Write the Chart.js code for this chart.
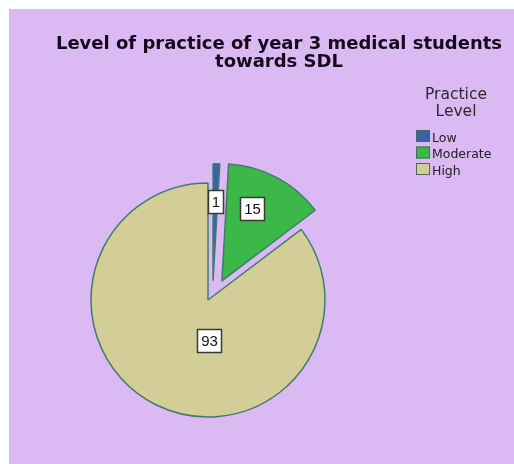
<!DOCTYPE html>
<html>
<head>
<meta charset="utf-8">
<script src="https://cdn.jsdelivr.net/npm/chart.js@4/dist/chart.umd.min.js"></script>
<style>
  html, body { margin: 0; padding: 0; background: #ffffff; }
  #wrap { width: 514px; height: 464px; position: relative; }
</style>
</head>
<body>
<div id="wrap"><canvas id="pie" width="514" height="464"></canvas></div>
<script>
// Students per practice level (year 3, self-directed learning)
const levels = ['Low', 'Moderate', 'High'];
const counts = [1, 15, 93];

const titleLines = ['Level of practice of year 3 medical students', 'towards SDL'];
const legendTitle = ['Practice', 'Level'];

// Presentation
const sliceColors = ['#3a62a9', '#3bb848', '#d3ce97'];
const sliceBorder = '#3f7c6e';
const explodePx = [20, 23.6, 0];        // how far each slice is pulled out
const explodeTurn = [13, 8, 0];         // extra turn of the pull direction, degrees
const labelFrac = [0.68, 0.667, 0.35];  // label distance as part of radius
const labelTurn = [0.4, -5.3, -27.8];   // label angle tweak in degrees
const RADIUS = 117;
const FONT = '"DejaVu Sans", Verdana, sans-serif';
const BOX_FONT = '"Liberation Sans", Arial, sans-serif';

// Pull slices out by moving each arc's centre, so radius and angles stay exact
const explode = {
  id: 'explode',
  afterDatasetUpdate(chart, args) {
    args.meta.data.forEach((arc, i) => {
      const a = (arc.startAngle + arc.endAngle) / 2 + explodeTurn[i] * Math.PI / 180;
      arc.x += Math.cos(a) * explodePx[i];
      arc.y += Math.sin(a) * explodePx[i];
    });
  }
};

const backdrop = {
  id: 'backdrop',
  beforeDraw(chart) {
    const c = chart.ctx;
    c.save();
    c.fillStyle = '#ffffff';
    c.fillRect(0, 0, chart.width, chart.height);
    c.fillStyle = '#dbb9f2';
    c.fillRect(9, 9, chart.width - 9, chart.height - 9);
    c.restore();
  }
};

const decorations = {
  id: 'decorations',
  afterDatasetsDraw(chart) {
    const c = chart.ctx;
    const meta = chart.getDatasetMeta(0);
    c.save();

    // value boxes
    c.font = '15px ' + BOX_FONT;
    c.textAlign = 'center';
    c.textBaseline = 'middle';
    meta.data.forEach((arc, i) => {
      const mid = (arc.startAngle + arc.endAngle) / 2;
      const a = mid + labelTurn[i] * Math.PI / 180;
      const r = RADIUS * labelFrac[i];
      const lx = arc.x + Math.cos(a) * r;
      const ly = arc.y + Math.sin(a) * r;
      const txt = String(counts[i]);
      const w = Math.round(c.measureText(txt).width + 7);
      const h = 23;
      const x0 = Math.round(lx - w / 2) + 0.5;
      const y0 = Math.round(ly - h / 2) + 0.5;
      c.fillStyle = '#ffffff';
      c.fillRect(x0, y0, w, h);
      c.strokeStyle = '#3b3b33';
      c.lineWidth = 1.5;
      c.strokeRect(x0, y0, w, h);
      c.fillStyle = '#111111';
      c.fillText(txt, x0 + w / 2, y0 + h / 2 + 1);
    });

    // title
    c.textBaseline = 'alphabetic';
    c.fillStyle = '#140c1c';
    c.font = 'bold 18px ' + FONT;
    c.fillText(titleLines[0], 279, 49);
    c.fillText(titleLines[1], 279, 67);

    // legend
    c.fillStyle = '#2b2b2b';
    c.font = '15.5px ' + FONT;
    c.fillText(legendTitle[0], 456, 99);
    c.fillText(legendTitle[1], 456, 116);
    c.font = '12.5px ' + FONT;
    c.textAlign = 'left';
    levels.forEach((name, i) => {
      const top = 130 + i * 16.5;
      c.fillStyle = sliceColors[i];
      c.fillRect(416, top, 14, 12);
      c.strokeStyle = '#4a6a60';
      c.lineWidth = 1;
      c.strokeRect(416.5, top + 0.5, 13, 11);
      c.fillStyle = '#222222';
      c.fillText(name, 432, top + 11.5);
    });
    c.restore();
  }
};

new Chart(document.getElementById('pie'), {
  type: 'pie',
  data: {
    labels: levels,
    datasets: [{
      data: counts,
      backgroundColor: sliceColors,
      borderColor: sliceBorder,
      borderWidth: 1.5
    }]
  },
  options: {
    responsive: false,
    animation: false,
    events: [],
    radius: RADIUS,
    layout: { padding: { left: 44, right: 142, top: 136, bottom: 0 } },
    plugins: {
      legend: { display: false },
      title: { display: false },
      tooltip: { enabled: false }
    }
  },
  plugins: [backdrop, explode, decorations]
});
</script>
</body>
</html>
